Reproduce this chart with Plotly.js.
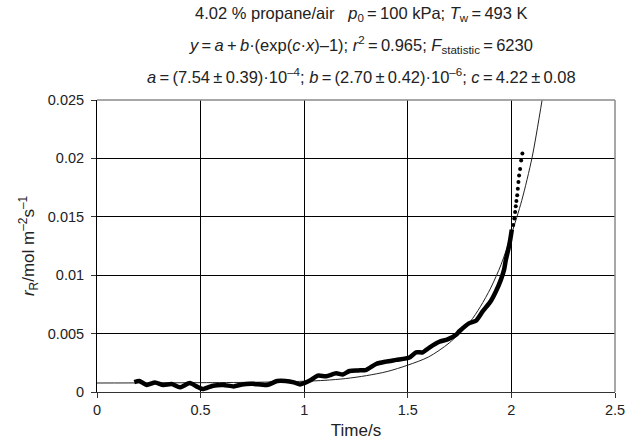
<!DOCTYPE html>
<html>
<head>
<meta charset="utf-8">
<script src="https://cdn.plot.ly/plotly-3.0.1.min.js"></script>
<style>html,body{margin:0;padding:0;background:#fff;}#chart{width:628px;height:444px;}</style>
</head>
<body>
<div id="chart"></div>
<script>
// Measured data (dense part, drawn as thick line)
var timeDense = [0.18,0.205,0.24,0.28,0.32,0.36,0.40,0.448,0.48,0.51,0.56,0.61,0.66,0.70,0.75,0.82,0.87,0.91,0.95,0.98,1.0,1.03,1.066,1.106,1.154,1.186,1.219,1.26,1.30,1.347,1.395,1.444,1.508,1.54,1.572,1.604,1.652,1.692,1.733,1.749,1.797,1.829,1.861,1.901,1.925,1.949,1.965,1.973,1.985,1.994,2.002];
var rateDense = [0.00085,0.00095,0.0006,0.00082,0.0006,0.00068,0.0004,0.00076,0.00048,0.00025,0.00054,0.0006,0.00048,0.00065,0.0007,0.0006,0.00094,0.00094,0.00082,0.00065,0.00076,0.001,0.0014,0.00135,0.0016,0.0015,0.0018,0.00185,0.0019,0.0024,0.0026,0.00275,0.00295,0.0034,0.0034,0.0038,0.0043,0.0045,0.0049,0.0052,0.0059,0.0061,0.0069,0.0078,0.0086,0.0096,0.0105,0.0113,0.0122,0.013,0.0139];
// Measured data (sparse tail, drawn as dots)
var timeSparse = [2.009,2.014,2.018,2.021,2.024,2.028,2.031,2.034,2.037,2.042,2.047,2.053];
var rateSparse = [0.01429,0.01485,0.01542,0.0159,0.01635,0.01684,0.0174,0.01797,0.01854,0.0191,0.01981,0.02043];
// Fitted curve
var timeFit = [0,0.25,0.5,0.75,1.0,1.1,1.2,1.3,1.4,1.5,1.6,1.7,1.8,1.85,1.9,1.95,2.0,2.05,2.1,2.15];
var rateFit = [0.00077,0.00078,0.0008,0.00083,0.00092,0.001,0.00115,0.0014,0.00175,0.0023,0.003,0.0042,0.006,0.0073,0.0089,0.0109,0.0135,0.0164,0.0201,0.0252];
// Axis ticks
var xTicks = [0,0.5,1,1.5,2,2.5];
var xTickText = ['0','0.5','1','1.5','2','2.5'];
var yTicks = [0,0.005,0.01,0.015,0.02,0.025];
var yTickText = ['0','0.005','0.01','0.015','0.02','0.025'];
// Title lines (thin spaces around = and ±)
var titleLines = [
  '4.02 % propane/air   <i>p</i><sub>0</sub>\u2009=\u2009100 kPa; <i>T</i><sub>w</sub>\u2009=\u2009493 K',
  '<i>y</i>\u2009=\u2009<i>a</i>\u2009+\u2009<i>b</i>·(exp(<i>c</i>·<i>x</i>)–1); <i>r</i><sup>2</sup>\u2009=\u20090.965; <i>F</i><sub>statistic</sub>\u2009=\u20096230',
  '<i>a</i>\u2009=\u2009(7.54\u2009±\u20090.39)·10<sup>–4</sup>; <i>b</i>\u2009=\u2009(2.70\u2009±\u20090.42)·10<sup>–6</sup>; <i>c</i>\u2009=\u20094.22\u2009±\u20090.08'
];

var FONT = 'Liberation Sans, Arial, sans-serif';

var traces = [
  {x: timeFit, y: rateFit, mode: 'lines', line: {color: '#222', width: 1, shape: 'spline', smoothing: 0.8}, hoverinfo: 'skip', showlegend: false},
  {x: timeDense, y: rateDense, mode: 'lines', line: {color: '#000', width: 4.5, shape: 'spline', smoothing: 0.6}, showlegend: false},
  {x: timeSparse, y: rateSparse, mode: 'markers', marker: {color: '#000', size: 4}, showlegend: false}
];

var titleY = [14, 45, 76];
var annotations = titleLines.map(function(t, i){
  return {text: t, xref: 'paper', yref: 'paper', x: 0.51, y: 1, yshift: 100 - titleY[i], yanchor: 'middle', xanchor: 'center', showarrow: false, font: {family: FONT, size: 16.5, color: '#222'}};
});

var layout = {
  width: 628, height: 444,
  margin: {l: 97, r: 13, t: 100, b: 52, pad: 0},
  paper_bgcolor: '#fff', plot_bgcolor: '#fff',
  font: {family: FONT, size: 14.5, color: '#222'},
  xaxis: {
    range: [0, 2.5], tickvals: xTicks, ticktext: xTickText,
    showgrid: true, gridcolor: '#000', gridwidth: 1,
    showline: true, linecolor: '#333', linewidth: 1,
    ticks: 'outside', ticklen: 5, tickcolor: '#333',
    zeroline: false, fixedrange: true,
    tickfont: {family: FONT, size: 14.5, color: '#222'},
    title: {text: 'Time/s', font: {family: FONT, size: 17, color: '#222'}, standoff: 6}
  },
  yaxis: {
    range: [0, 0.025], tickvals: yTicks, ticktext: yTickText,
    showgrid: true, gridcolor: '#000', gridwidth: 1,
    showline: true, linecolor: '#000', linewidth: 1,
    ticks: 'outside', ticklen: 5, tickcolor: '#333', ticklabelstandoff: 4,
    zeroline: false, fixedrange: true,
    tickfont: {family: FONT, size: 14.5, color: '#222'},
    title: {text: '<i>r</i><sub>R</sub>/mol m<sup>–2</sup>s<sup>–1</sup>', font: {family: FONT, size: 17, color: '#222'}, standoff: 8}
  },
  shapes: [
    {type: 'line', xref: 'paper', yref: 'paper', x0: 0, x1: 1, y0: 1, y1: 1, line: {color: '#8a8a8a', width: 1.5}, layer: 'above'},
    {type: 'line', xref: 'paper', yref: 'paper', x0: 1, x1: 1, y0: 0, y1: 1, line: {color: '#8a8a8a', width: 1.5}, layer: 'above'}
  ],
  annotations: annotations
};

Plotly.newPlot('chart', traces, layout, {staticPlot: true, displayModeBar: false});
</script>
</body>
</html>
